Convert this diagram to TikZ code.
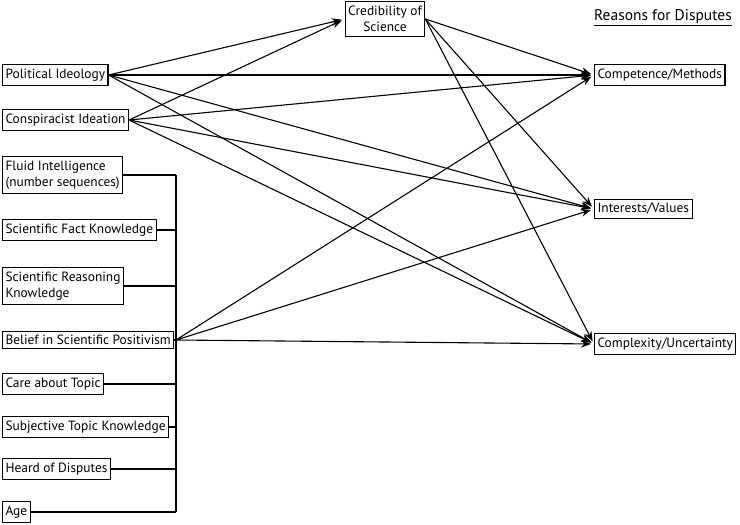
\documentclass[tikz,border=0pt]{standalone}
\usepackage{fontspec}
\setmainfont{PT Sans}
\usetikzlibrary{arrows.meta,calc}
\tikzset{
  varbox/.style={
    draw, line width=1.1pt, inner xsep=3pt, inner ysep=4pt,
    font=\fontsize{13.4}{16.5}\selectfont, align=left
  },
  path/.style={
    line width=1.1pt, -{Stealth[length=10pt,width=7.5pt]},
    shorten >=3pt
  },
  bus/.style={
    line width=1.1pt
  }
}
\begin{document}
\begin{tikzpicture}[x=1pt,y=-1pt]
\useasboundingbox (0,0) rectangle (740,525);
% predictors
\node[varbox, anchor=west] (pol) at (2,75) {Political Ideology};
\node[varbox, anchor=west] (con) at (2,120) {Conspiracist Ideation};
\node[varbox, anchor=west] (flu) at (2,175) {Fluid Intelligence\\(number sequences)};
\node[varbox, anchor=west] (fac) at (2,230) {Scientific Fact Knowledge};
\node[varbox, anchor=west] (rea) at (2,286) {Scientific Reasoning\\Knowledge};
\node[varbox, anchor=west] (bel) at (2,340) {Belief in Scientific Positivism};
\node[varbox, anchor=west] (car) at (2,384) {Care about Topic};
\node[varbox, anchor=west] (sub) at (2,427) {Subjective Topic Knowledge};
\node[varbox, anchor=west] (hea) at (2,469) {Heard of Disputes};
\node[varbox, anchor=west] (age) at (2,512) {Age};
% mediator
\node[varbox, align=center] (cred) at (385,19) {Credibility of\\Science};
% outcomes
\node[font=\fontsize{15.5}{17}\selectfont] (title) at (663,18) {\underline{Reasons for Disputes}};
\node[varbox, anchor=west] (comp) at (594,75) {Competence/Methods};
\node[varbox, anchor=west] (intr) at (594,209) {Interests/Values};
\node[varbox, anchor=west] (cplx) at (594,344) {Complexity/Uncertainty};

% covariate bus
\coordinate (busx) at (176,0);
\draw[bus] (flu.east -| busx) -- (age.east -| busx);
\foreach \v in {flu,fac,rea,bel,car,sub,hea,age}
  \draw[bus] (\v.east) -- (\v.east -| busx);
\coordinate (belbus) at (bel.east -| busx);

% paths
\foreach \src in {pol,con}{
  \draw[path] (\src.east) -- (cred.west);
  \foreach \dst in {comp,intr,cplx}
    \draw[path] (\src.east) -- (\dst.west);
}
\foreach \dst in {comp,intr,cplx}{
  \draw[path] (cred.east) -- (\dst.west);
  \draw[path] (belbus) -- (\dst.west);
}
\end{tikzpicture}
\end{document}
